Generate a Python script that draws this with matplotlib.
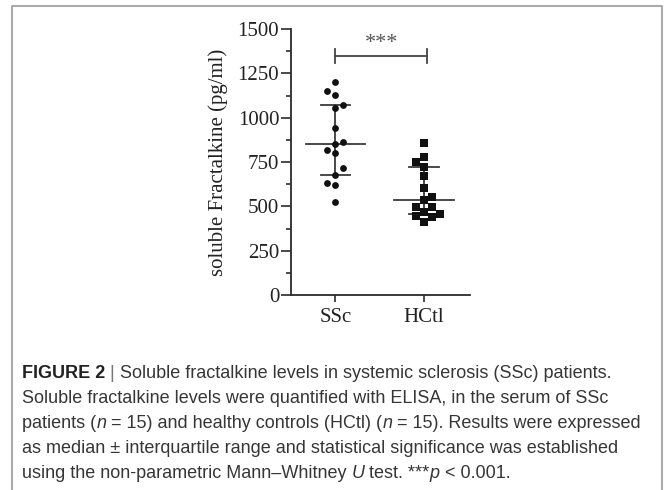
import numpy as np
import matplotlib
matplotlib.use("Agg")
import matplotlib.pyplot as plt
from matplotlib.lines import Line2D
from matplotlib.ticker import MultipleLocator

# ================= data =================
GROUPS = ["SSc", "HCtl"]
SSC_VALUES = [1203, 1152, 1128, 1072, 1055, 940, 865, 852, 818, 799, 715, 678, 630, 620, 526]
HCTL_VALUES = [855, 777, 752, 724, 673, 602, 555, 536, 498, 498, 470, 457, 447, 438, 413]
# column of each point in the scatter
SSC_COLS = [0, -1, 0, 1, 0, 0, 1, 0, -1, 0, 1, 0, -1, 0, 0]
HCTL_COLS = [0, 0, -1, 0, 0, 0, 1, 0, -1, 1, 0, 2, -1, 1, 0]
Y_TICKS = [0, 250, 500, 750, 1000, 1250, 1500]
Y_LABEL = "soluble Fractalkine (pg/ml)"
SIG_TEXT = "***"
SIG_Y = 1350

CAPTION = [
    [("FIGURE 2", "bold"), (" | ", "bar"),
     ("Soluble fractalkine levels in systemic sclerosis (SSc) patients.", "normal")],
    [("Soluble fractalkine levels were quantified with ELISA, in the serum of SSc", "normal")],
    [("patients (", "normal"), ("n", "italic"), (" = 15) and healthy controls (HCtl) (", "normal"),
     ("n", "italic"), (" = 15). Results were expressed", "normal")],
    [("as median \u00b1 interquartile range and statistical significance was established", "normal")],
    [("using the non-parametric Mann\u2013Whitney ", "normal"), ("U", "italic"),
     (" test. ***", "normal"), ("p", "italic"), (" < 0.001.", "normal")],
]
# ======================================

SERIF = "Liberation Serif"
SANS = "Liberation Sans"
INK = "#2b2b2b"
CAP_SIZE = 13

fig = plt.figure(figsize=(6.64, 4.90), dpi=100)

# background axes for frame and caption
bg = fig.add_axes([0, 0, 1, 1])
bg.set_xlim(0, 664)
bg.set_ylim(490, 0)
bg.axis("off")
bg.add_line(Line2D([12, 12, 662, 662], [490, 6.5, 6.5, 490], color="#ababab", lw=1.5))

styles = {
    "bold": dict(fontweight="bold", color="#222222"),
    "bar": dict(color="#777777"),
    "normal": dict(color="#363636"),
    "italic": dict(style="italic", color="#363636"),
}
line_y = [377.5, 402.5, 427.5, 452.5, 477.5]
for y, pieces in zip(line_y, CAPTION):
    txt, st = pieces[0]
    t = bg.text(22, y, txt, fontsize=CAP_SIZE, family=SANS, va="baseline", **styles[st])
    for txt, st in pieces[1:]:
        t = bg.annotate(txt, xy=(1, 0), xycoords=t, va="bottom", ha="left",
                        fontsize=CAP_SIZE, family=SANS, **styles[st])

# chart
ax = fig.add_axes([291 / 664, 195 / 490, 179 / 664, 266 / 490])
for i, (vals, cols, mk) in enumerate([(SSC_VALUES, SSC_COLS, "o"), (HCTL_VALUES, HCTL_COLS, "s")]):
    x0 = i + 1
    v = np.array(vals, dtype=float)
    xs = x0 + 0.092 * np.array(cols)
    ax.scatter(xs, v, marker=mk, s=24 if mk == "o" else 26, color="#111111", zorder=3, linewidths=0)
    med = np.median(v)
    q1, q3 = np.percentile(v, [25, 75], method="weibull")
    ax.plot([x0 - 0.335, x0 + 0.335], [med, med], color="#3a3a3a", lw=1.3, zorder=2)
    ax.plot([x0 - 0.165, x0 + 0.165], [q1, q1], color="#3a3a3a", lw=1.3, zorder=2)
    ax.plot([x0 - 0.165, x0 + 0.165], [q3, q3], color="#3a3a3a", lw=1.3, zorder=2)
    ax.plot([x0, x0], [q1, q3], color="#3a3a3a", lw=1.3, zorder=2)

# significance bracket
ax.plot([1.0, 2.04], [SIG_Y, SIG_Y], color="#444444", lw=1.3, clip_on=False)
ax.plot([1.0, 1.0], [SIG_Y - 40, SIG_Y + 40], color="#444444", lw=1.3, clip_on=False)
ax.plot([2.04, 2.04], [SIG_Y - 40, SIG_Y + 40], color="#444444", lw=1.3, clip_on=False)
ax.text(1.52, SIG_Y + 45, SIG_TEXT, ha="center", va="baseline", fontsize=16, family=SERIF,
        color="#555555")

ax.set_xlim(0.5, 2.52)
ax.set_ylim(0, 1500)
ax.set_xticks([1, 2])
ax.set_xticklabels(GROUPS, family=SERIF, fontsize=15, color="#222222")
ax.set_yticks(Y_TICKS)
ax.set_yticklabels([str(t) for t in Y_TICKS], family=SERIF, fontsize=15, color="#222222")
ax.yaxis.set_minor_locator(MultipleLocator(125))
ax.set_ylabel(Y_LABEL, family=SERIF, fontsize=15, color="#222222", labelpad=7)
ax.tick_params(axis="y", which="major", length=7, width=1.2, pad=1.5, color=INK)
ax.tick_params(axis="y", which="minor", length=3.5, width=1.2, color=INK)
ax.tick_params(axis="x", length=5, width=1.2, pad=4, color=INK)
for side in ["top", "right"]:
    ax.spines[side].set_visible(False)
for side in ["left", "bottom"]:
    ax.spines[side].set_color(INK)
    ax.spines[side].set_linewidth(1.3)
ax.patch.set_alpha(0)

fig.savefig("out.png", dpi=100)
